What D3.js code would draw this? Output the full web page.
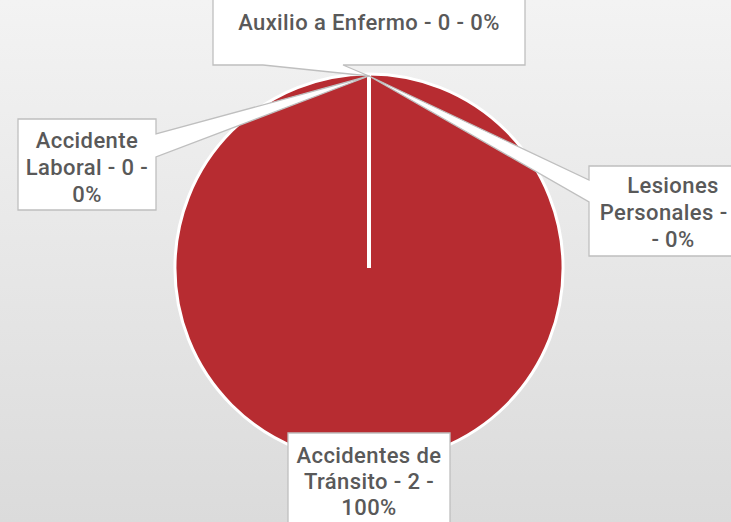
<!DOCTYPE html>
<html>
<head>
<meta charset="utf-8">
<script src="https://cdn.jsdelivr.net/npm/d3@7"></script>
<style>
html,body{margin:0;padding:0;overflow:hidden;}
svg{display:block;}
</style>
</head>
<body>
<svg id="chart" width="731" height="522"></svg>
<script>
const categories = ["Auxilio a Enfermo", "Accidente Laboral", "Lesiones Personales", "Accidentes de Tránsito"];
const values = [0, 0, 0, 2];
const colors = ["#B72C31", "#B72C31", "#B72C31", "#B72C31"];

const W = 731, H = 522;
const cx = 369, cy = 268, R = 194;
const svg = d3.select("#chart");

const defs = svg.append("defs");
const grad = defs.append("linearGradient").attr("id", "bg").attr("x1", 0).attr("y1", 0).attr("x2", 0).attr("y2", 1);
grad.append("stop").attr("offset", "0%").attr("stop-color", "#f3f3f3");
grad.append("stop").attr("offset", "100%").attr("stop-color", "#dbdbdb");
svg.append("rect").attr("width", W).attr("height", H).attr("fill", "url(#bg)");

const total = d3.sum(values);
const pie = d3.pie().sort(null).value(d => d)(values);
const arc = d3.arc().innerRadius(0).outerRadius(R);

const g = svg.append("g").attr("transform", `translate(${cx},${cy})`);
g.selectAll("path.slice").data(pie).join("path")
  .attr("class", "slice")
  .attr("d", arc)
  .attr("fill", (d, i) => colors[i])
  .attr("stroke", "#ffffff")
  .attr("stroke-width", 3);
// slice boundary lines (radial)
pie.filter(d => d.value > 0 && d.endAngle - d.startAngle >= 2 * Math.PI - 1e-6).forEach(d => {
  const p = d3.pointRadial(d.startAngle, R);
  g.append("line").attr("x1", 0).attr("y1", 0).attr("x2", p[0]).attr("y2", p[1])
    .attr("stroke", "#ffffff").attr("stroke-width", 4);
});

// callout layout (positions)
const boxes = [
  {x: 213, y: -24, w: 312, h: 89, side: "bottom", base: [263, 343], lines: ["Auxilio a Enfermo - 0 - 0%"], ty: [22]},
  {x: 18, y: 119, w: 138, h: 91, side: "right", base: [134, 157], lines: ["Accidente", "Laboral - 0 -", "0%"], ty: [140, 167, 194]},
  {x: 589, y: 166, w: 168, h: 90, side: "left", base: [180, 202], lines: ["Lesiones", "Personales - 0", "- 0%"], ty: [185, 212, 239]},
  {x: 288, y: 433, w: 162, h: 110, side: null, base: null, lines: ["Accidentes de", "Tránsito - 2 -", "100%"], ty: [455, 481, 507]}
];

function calloutPath(b, tip) {
  const x0 = b.x, y0 = b.y, x1 = b.x + b.w, y1 = b.y + b.h;
  const p = d3.path();
  p.moveTo(x0, y0);
  p.lineTo(x1, y0);
  if (b.side === "right") { p.lineTo(x1, b.base[0]); p.lineTo(tip[0], tip[1]); p.lineTo(x1, b.base[1]); }
  p.lineTo(x1, y1);
  if (b.side === "bottom") { p.lineTo(b.base[1], y1); p.lineTo(tip[0], tip[1]); p.lineTo(b.base[0], y1); }
  p.lineTo(x0, y1);
  if (b.side === "left") { p.lineTo(x0, b.base[1]); p.lineTo(tip[0], tip[1]); p.lineTo(x0, b.base[0]); }
  p.closePath();
  return p.toString();
}

boxes.forEach((b, i) => {
  const d = pie[i];
  const mid = (d.startAngle + d.endAngle) / 2;
  const t = d3.pointRadial(mid, R - 1);
  const tip = [cx + t[0], cy + t[1] + 1];
  svg.append("path").attr("d", calloutPath(b, tip))
    .attr("fill", "#ffffff").attr("stroke", "#bfbfbf").attr("stroke-width", 1.3)
    .attr("stroke-linejoin", "miter");
  svg.append("text")
    .attr("font-family", "Roboto, 'Open Sans', sans-serif")
    .attr("font-size", 22)
    .attr("font-weight", 500)
    .attr("letter-spacing", 0.4)
    .attr("fill", "#595959")
    .attr("text-anchor", "middle")
    .selectAll("tspan").data(b.lines).join("tspan")
    .attr("x", b.x + b.w / 2)
    .attr("y", (l, j) => b.ty[j])
    .attr("dy", "0.35em")
    .text(l => l);
});
</script>
</body>
</html>
